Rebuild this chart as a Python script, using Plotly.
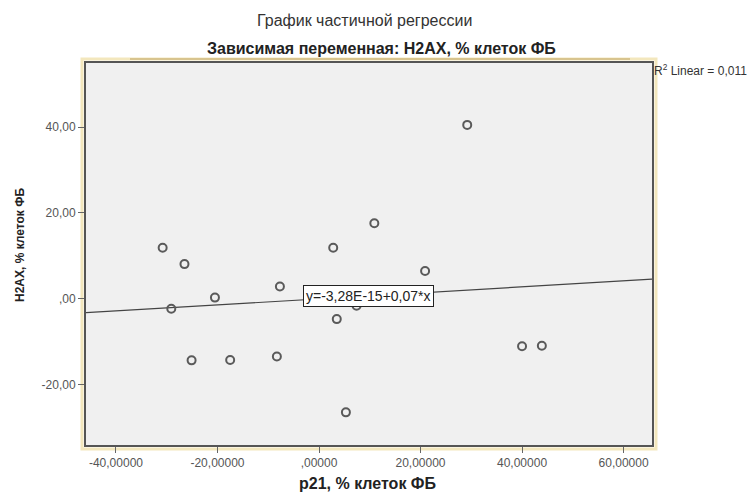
import plotly.graph_objects as go

# Data (partial regression residuals)
p21_resid = [29.2, -30.8, -26.5, -29.1, -20.5, -7.7, 2.8, 10.9, 20.9, 3.5, 7.4,
             -25.1, -17.5, -8.3, 5.3, 40.0, 43.9]
h2ax_resid = [40.5, 11.9, 8.1, -2.3, 0.3, 2.9, 11.9, 17.6, 6.5, -4.7, -1.6,
              -14.3, -14.2, -13.4, -26.4, -11.0, -10.9]

fit_intercept = -3.28e-15
fit_slope = 0.07

x_tickvals = [-40, -20, 0, 20, 40, 60]
x_ticktext = ["-40,00000", "-20,00000", ",00000", "20,00000", "40,00000", "60,00000"]
y_tickvals = [-20, 0, 20, 40]
y_ticktext = ["-20,00", ",00", "20,00", "40,00"]

x_range = [-45.9, 65.6]
y_range = [-34.0, 54.9]

FONT = "Arial, 'Liberation Sans', sans-serif"

fig = go.Figure()

fit_x = list(x_range)
fit_y = [fit_intercept + fit_slope * v for v in fit_x]
fig.add_trace(go.Scatter(x=fit_x, y=fit_y, mode="lines",
                         line=dict(color="#444444", width=1.2),
                         hoverinfo="skip", showlegend=False))

fig.add_trace(go.Scatter(x=p21_resid, y=h2ax_resid, mode="markers",
                         marker=dict(symbol="circle-open", size=8,
                                     color="#5a5a5a", line=dict(width=2, color="#5a5a5a")),
                         showlegend=False))


def px(xp):
    return (xp - 86) / 566


def py(yp):
    return (445 - yp) / 382


fig.update_layout(
    width=755, height=493,
    margin=dict(l=86, r=103, t=63, b=48),
    paper_bgcolor="white",
    plot_bgcolor="#f0f0f0",
    font=dict(family=FONT, color="#222"),
    xaxis=dict(range=x_range, tickvals=x_tickvals, ticktext=x_ticktext,
               showgrid=False, zeroline=False, showline=True, mirror=True,
               linecolor="#555", linewidth=2, ticks="outside", ticklen=6,
               tickcolor="#666", tickfont=dict(size=12, color="#555")),
    yaxis=dict(range=y_range, tickvals=y_tickvals, ticktext=y_ticktext,
               showgrid=False, zeroline=False, showline=True, mirror=True,
               linecolor="#555", linewidth=2, ticks="outside", ticklen=6,
               tickcolor="#666", tickfont=dict(size=12, color="#555")),
    shapes=[
        dict(type="rect", xref="paper", yref="paper",
             x0=px(82), x1=px(656), y0=py(449), y1=py(59),
             line=dict(color="#f3e7bd", width=3), layer="below"),
        dict(type="line", xref="paper", yref="paper",
             x0=px(130), x1=px(630), y0=py(59), y1=py(59),
             line=dict(color="#d8c48e", width=2)),
    ],
    annotations=[
        dict(text="График частичной регрессии", xref="paper", yref="paper",
             x=px(364), y=py(21), xanchor="center", yanchor="middle", showarrow=False,
             font=dict(size=16, color="#333")),
        dict(text="<b>Зависимая переменная: H2AX, % клеток ФБ</b>", xref="paper", yref="paper",
             x=px(381), y=py(49), xanchor="center", yanchor="middle", showarrow=False,
             font=dict(size=16, color="#222")),
        dict(text="R<sup>2</sup> Linear = 0,011", xref="paper", yref="paper",
             x=px(652), y=py(70), xanchor="left", yanchor="middle", showarrow=False,
             font=dict(size=12, color="#333")),
        dict(text="<b>p21, % клеток ФБ</b>", xref="paper", yref="paper",
             x=px(367), y=py(483), xanchor="center", yanchor="middle", showarrow=False,
             font=dict(size=16, color="#222")),
        dict(text="<b>H2AX, % клеток ФБ</b>", xref="paper", yref="paper",
             x=px(20), y=py(245), xanchor="center", yanchor="middle", showarrow=False,
             textangle=-90, font=dict(size=12, color="#222")),
        dict(text="y=-3,28E-15+0,07*x", xref="x", yref="y",
             x=9.7, y=0.7, xanchor="center", yanchor="middle", showarrow=False,
             bgcolor="white", bordercolor="#222", borderwidth=1, borderpad=2,
             font=dict(size=14, color="#222")),
    ],
)

fig.write_html("out.html")
